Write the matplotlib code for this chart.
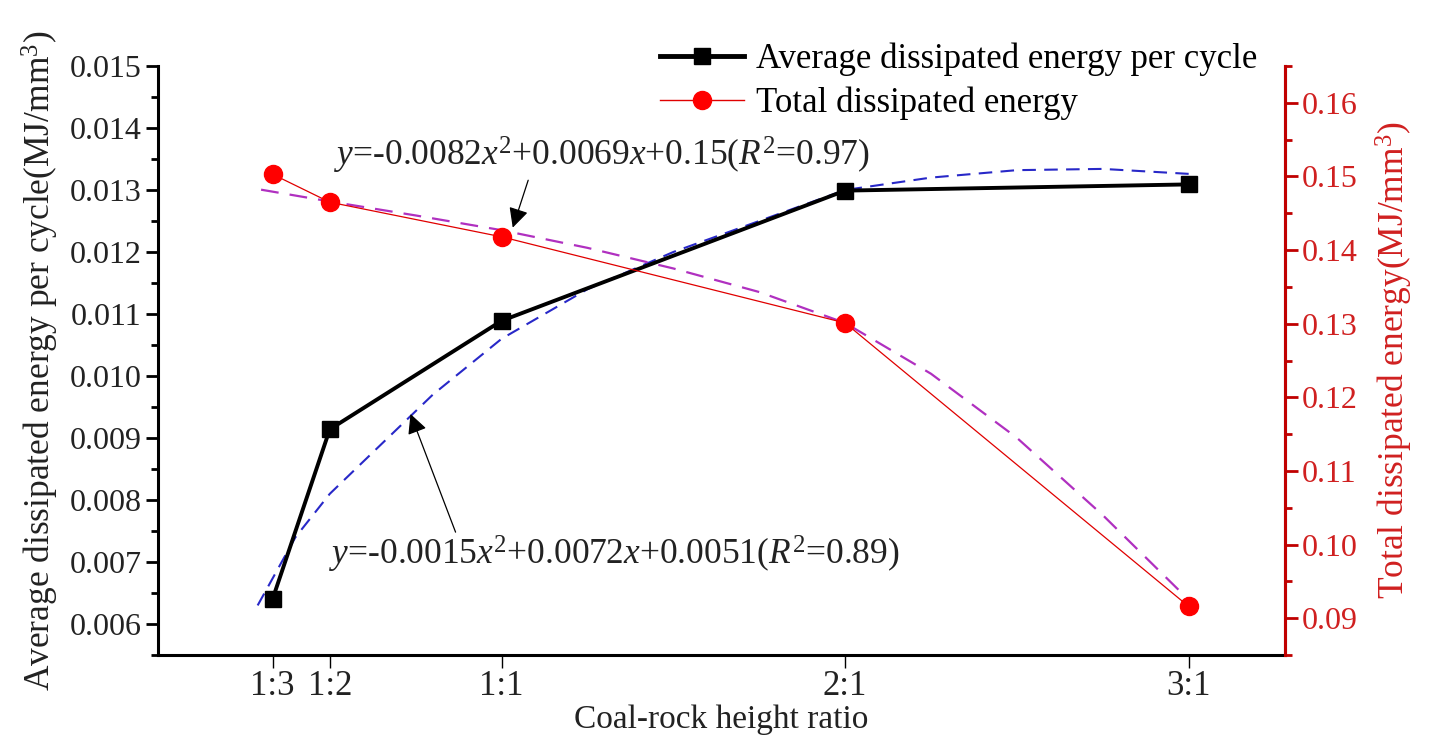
import matplotlib
matplotlib.use("Agg")
import matplotlib.pyplot as plt
from matplotlib.lines import Line2D

plt.rcParams['font.family'] = ['Liberation Serif', 'DejaVu Serif']
plt.rcParams['mathtext.fontset'] = 'custom'
plt.rcParams['mathtext.rm'] = 'Liberation Serif'
plt.rcParams['mathtext.it'] = 'Liberation Serif:italic'

# height ratio as numbers (1:3, 1:2, 1:1, 2:1, 3:1)
ratio_x = [1/3, 0.5, 1.0, 2.0, 3.0]
ratio_labels = ['1:3', '1:2', '1:1', '2:1', '3:1']

avg_energy = [0.00640, 0.00914, 0.01089, 0.01299, 0.01309]
total_energy = [0.1503, 0.1465, 0.1418, 0.1301, 0.0916]

# fitted curves
avg_fit_x = [0.29, 0.40, 0.50, 0.65, 0.80, 1.00, 1.25, 1.50, 1.75, 2.00, 2.25, 2.50, 2.75, 3.00]
avg_fit_y = [0.0063, 0.0074, 0.0081, 0.0089, 0.0097, 0.0106, 0.0114, 0.0120, 0.0125,
             0.01300, 0.01320, 0.01332, 0.01334, 0.01326]
tot_fit_x = [0.30, 0.50, 0.75, 1.00, 1.25, 1.50, 1.75, 2.00, 2.25, 2.50, 2.75, 3.00]
tot_fit_y = [0.1482, 0.1466, 0.1447, 0.1427, 0.1403, 0.1375, 0.1343, 0.1301, 0.1232,
             0.1145, 0.1040, 0.0925]

eq_total = '$y$=-0.0082$x^2$+0.0069$x$+0.15($R^2$=0.97)'
eq_avg = '$y$=-0.0015$x^2$+0.0072$x$+0.0051($R^2$=0.89)'

red = '#E00000'
axred = '#C00000'
txtred = '#D02020'
txt = '#222222'

fig = plt.figure(figsize=(14.3, 7.43), dpi=100)
ax = fig.add_axes([0.1105, 0.1184, 0.788, 0.7928])
ax2 = ax.twinx()

ax.plot(avg_fit_x, avg_fit_y, color='#2828C8', lw=1.5, dashes=(6.5, 4))
ax.plot(ratio_x, avg_energy, color='black', lw=2.8, marker='s', ms=12,
        markeredgecolor='black', markerfacecolor='black')

ax2.plot(tot_fit_x, tot_fit_y, color='#B030C0', lw=1.6, dashes=(8, 5))
ax2.plot(ratio_x, total_energy, color=red, lw=0.9, marker='o', ms=13,
         markerfacecolor='#FF0000', markeredgecolor='#FF0000')

ax.set_xlim(0, 3.28)
ax.set_ylim(0.0055, 0.015)
ax2.set_ylim(0.085, 0.165)

ax.set_xticks(ratio_x)
ax.set_xticklabels(ratio_labels)
ax.set_yticks([0.006 + 0.001 * i for i in range(10)])
ax.set_yticks([0.0055 + 0.001 * i for i in range(10)], minor=True)
ax.yaxis.set_major_formatter(matplotlib.ticker.FormatStrFormatter('%.3f'))
ax2.set_yticks([0.09 + 0.01 * i for i in range(8)])
ax2.set_yticks([0.085 + 0.01 * i for i in range(9)], minor=True)
ax2.yaxis.set_major_formatter(matplotlib.ticker.FormatStrFormatter('%.2f'))

for a in (ax, ax2):
    a.spines['top'].set_visible(False)
    for s in a.spines.values():
        s.set_linewidth(2.2)

ax.tick_params(axis='y', which='major', direction='out', length=9, width=2,
               labelsize=23, colors='black', labelcolor=txt, pad=3)
ax.tick_params(axis='y', which='minor', direction='out', length=5, width=2)
ax.tick_params(axis='x', which='major', direction='out', width=1, length=9,
               labelsize=25, labelcolor=txt, pad=2)
ax2.spines['right'].set_color(axred)
ax2.spines['left'].set_visible(False)
ax2.spines['bottom'].set_visible(False)
ax2.tick_params(axis='y', which='major', direction='out', length=9, width=2,
                colors=axred, labelsize=23, labelcolor=txtred, pad=3)
ax2.tick_params(axis='y', which='minor', direction='out', length=5, width=2, colors=axred)

ax.set_xlabel('Coal-rock height ratio', fontsize=24, color=txt, labelpad=1)
ax.set_ylabel('Average dissipated energy per cycle(MJ/mm$^3$)', fontsize=25.5,
              color=txt, labelpad=6)
ax2.set_ylabel('Total dissipated energy(MJ/mm$^3$)', fontsize=25.5, color=txtred,
               labelpad=12)

ax.text(0.513, 0.01356, eq_total, fontsize=25.5, color=txt, ha='left', va='center')
ax.text(0.499, 0.00712, eq_avg, fontsize=25.5, color=txt, ha='left', va='center')
ax.annotate('', xy=(1.03, 0.01235), xytext=(1.08, 0.0132),
            arrowprops=dict(arrowstyle='-|>', color='black', lw=0.9, mutation_scale=30))
ax.annotate('', xy=(0.732, 0.00943), xytext=(0.869, 0.00744),
            arrowprops=dict(arrowstyle='-|>', color='black', lw=0.9, mutation_scale=30))

handles = [
    Line2D([], [], color='black', lw=3.5, marker='s', ms=12, markerfacecolor='black'),
    Line2D([], [], color=red, lw=1, marker='o', ms=13, markerfacecolor='#FF0000',
           markeredgecolor='#FF0000'),
]
fig.legend(handles, ['Average dissipated energy per cycle', 'Total dissipated energy'],
           loc='upper left', bbox_to_anchor=(0.44, 0.985), frameon=False,
           fontsize=25, handlelength=2.4, handletextpad=0.35, labelspacing=0.3)

fig.savefig('out.png', dpi=100)
